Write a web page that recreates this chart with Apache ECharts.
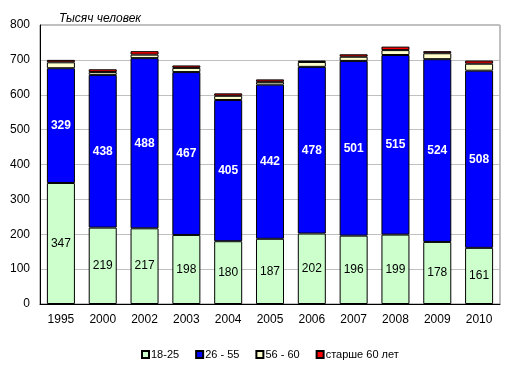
<!DOCTYPE html>
<html><head><meta charset="utf-8">
<script src="https://cdn.jsdelivr.net/npm/echarts@6/dist/echarts.min.js"></script>
<style>html,body{margin:0;padding:0;background:#fff}#c{width:516px;height:373px}</style>
</head><body><div id="c"></div>
<script>
const years = ['1995','2000','2002','2003','2004','2005','2006','2007','2008','2009','2010'];
const age18_25 = [347,219,217,198,180,187,202,196,199,178,161];
const age26_55 = [329,438,488,467,405,442,478,501,515,524,508];
const age56_60 = [17,8,10,12,12,8,14,12,14,17,20];
const age60plus = [7,8,10,7,7,7,4,7,10,6,9];
const seriesNames = ['18-25','26 - 55','56 - 60','старше 60 лет'];
const yTicks = [0,100,200,300,400,500,600,700,800];

const font = 'Liberation Sans, Arial, sans-serif';
const chart = echarts.init(document.getElementById('c'), null, {renderer:'canvas'});
function mk(name, data, color, label){
  return {
    name, type:'bar', stack:'t', data, barCategoryGap:'33%',
    itemStyle:{color, borderColor:'#000', borderWidth:1},
    label: label || {show:false},
    emphasis:{disabled:true}, animation:false
  };
}
chart.setOption({
  animation:false,
  textStyle:{fontFamily:font},
  title:{text:'Тысяч человек', left:54, top:8,
    textStyle:{fontSize:12, fontStyle:'italic', fontWeight:'normal', color:'#000', fontFamily:font}},
  grid:{left:40, right:16, top:25, bottom:69, show:true, borderColor:'#808080', borderWidth:1, backgroundColor:'transparent'},
  legend:{data:seriesNames, left:136, top:344, itemWidth:7, itemHeight:7, itemGap:16, icon:'rect',
    textStyle:{fontSize:11, color:'#000', fontFamily:font, padding:[0,0,0,-3]}},
  xAxis:{type:'category', data:years,
    axisLine:{lineStyle:{color:'#000', width:1}}, axisTick:{show:false},
    axisLabel:{fontSize:12, color:'#000', margin:10, fontFamily:font}},
  yAxis:{type:'value', min:yTicks[0], max:yTicks[yTicks.length-1], interval:100,
    axisLine:{show:true, lineStyle:{color:'#000', width:1}}, axisTick:{show:false},
    axisLabel:{fontSize:12, color:'#000', margin:10, fontFamily:font},
    splitLine:{lineStyle:{color:'#c0c0c0', width:1}}},
  series:[
    mk(seriesNames[0], age18_25, '#ccffcc', {show:true, position:'inside', color:'#000', fontSize:12, fontFamily:font}),
    mk(seriesNames[1], age26_55, '#0000ff', {show:true, position:'inside', color:'#fff', fontSize:12, fontWeight:'bold', fontFamily:font}),
    mk(seriesNames[2], age56_60, '#ffffcc'),
    mk(seriesNames[3], age60plus, '#ff0000')
  ]
});
</script></body></html>
